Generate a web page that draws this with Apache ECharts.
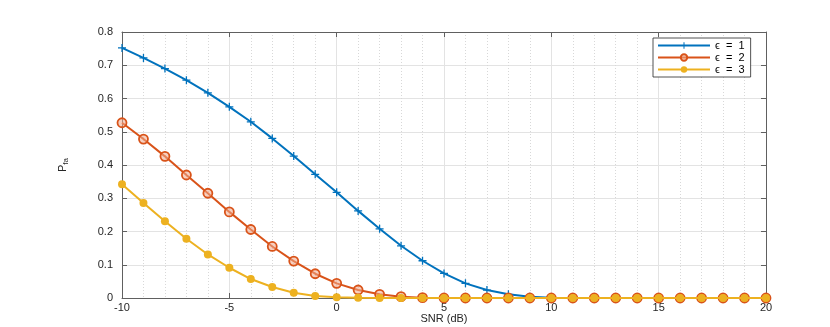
<!DOCTYPE html>
<html>
<head>
<meta charset="utf-8">
<script src="https://cdn.jsdelivr.net/npm/echarts@6/dist/echarts.min.js"></script>
<style>
html, body { margin: 0; padding: 0; background: #fff; }
#main { width: 830px; height: 327px; }
</style>
</head>
<body>
<div id="main"></div>
<script>
var snr = [-10,-9,-8,-7,-6,-5,-4,-3,-2,-1,0,1,2,3,4,5,6,7,8,9,10,11,12,13,14,15,16,17,18,19,20];
var eps1 = [0.752,0.722,0.690,0.655,0.617,0.575,0.530,0.480,0.427,0.372,0.318,0.262,0.208,0.157,0.112,0.074,0.044,0.024,0.011,0.004,0.001,0,0,0,0,0,0,0,0,0,0];
var eps2 = [0.527,0.478,0.426,0.370,0.315,0.259,0.206,0.155,0.111,0.073,0.044,0.024,0.011,0.004,0.001,0,0,0,0,0,0,0,0,0,0,0,0,0,0,0,0];
var eps3 = [0.342,0.286,0.231,0.178,0.131,0.091,0.057,0.033,0.016,0.006,0.002,0.0005,0,0,0,0,0,0,0,0,0,0,0,0,0,0,0,0,0,0,0];
var names = ['ϵ = 1', 'ϵ = 2', 'ϵ = 3'];

function pairs(ys) {
    return snr.map(function (x, i) { return [x, ys[i]]; });
}

var dom = document.getElementById("main");
var myChart = echarts.init(dom);
var axisColor = '#606060';
var labelStyle = { color: '#262626', fontSize: 11, fontFamily: 'Liberation Sans' };
var plus = 'path://M0,4.2H10V5.8H0Z M4.2,0H5.8V10H4.2Z';

var option = {
    backgroundColor: '#fff',
    animation: false,
    grid: { left: 122, right: 64, top: 32, bottom: 29, outerBoundsMode: 'none' },
    legend: {
        orient: 'vertical',
        left: 653,
        top: 38,
        padding: [2, 6, 2, 4],
        itemGap: 1,
        itemWidth: 52,
        itemHeight: 8,
        backgroundColor: '#fff',
        borderColor: '#262626',
        borderWidth: 0.8,
        borderRadius: 0,
        formatter: function (n) { return n.replace(/ = /, '  =  '); },
        textStyle: { color: '#000', fontSize: 11, fontFamily: 'Liberation Sans' },
        data: names
    },
    xAxis: [{
        type: 'value',
        min: -10, max: 20, interval: 5,
        name: 'SNR (dB)',
        nameLocation: 'middle',
        nameGap: 15,
        nameMoveOverlap: false,
        nameTextStyle: labelStyle,
        axisLine: { show: true, onZero: false, lineStyle: { color: axisColor, width: 1 } },
        axisTick: { show: true, inside: true, length: 5, lineStyle: { color: axisColor } },
        axisLabel: { margin: 4, color: labelStyle.color, fontSize: 11, fontFamily: 'Liberation Sans' },
        splitLine: { show: true, lineStyle: { color: '#e3e3e3', width: 1 } },
        minorTick: { show: false, splitNumber: 5 },
        minorSplitLine: { show: true, lineStyle: { color: '#d8d8d8', type: [1, 2], width: 1 } }
    }, {
        type: 'value', position: 'top',
        min: -10, max: 20, interval: 5,
        axisLine: { show: true, onZero: false, lineStyle: { color: axisColor, width: 1 } },
        axisTick: { show: true, inside: true, length: 5, lineStyle: { color: axisColor } },
        axisLabel: { show: false },
        splitLine: { show: false }
    }],
    yAxis: [{
        type: 'value',
        min: 0, max: 0.8, interval: 0.1,
        name: '{p|P}{s|fa}',
        nameLocation: 'middle',
        nameGap: 52,
        nameRotate: 90,
        nameTextStyle: {
            rich: {
                p: { fontSize: 11, color: '#262626', fontFamily: 'Liberation Sans' },
                s: { fontSize: 8, color: '#262626', fontFamily: 'Liberation Sans', verticalAlign: 'bottom', padding: [6, 0, 0, 0] }
            }
        },
        axisLine: { show: true, onZero: false, lineStyle: { color: axisColor, width: 1 } },
        axisTick: { show: true, inside: true, length: 5, lineStyle: { color: axisColor } },
        axisLabel: {
            margin: 9, color: labelStyle.color, fontSize: 11, fontFamily: 'Liberation Sans',
            formatter: function (v) { return v === 0 ? '0' : v.toFixed(1); }
        },
        splitLine: { show: true, lineStyle: { color: '#e3e3e3', width: 1 } }
    }, {
        type: 'value', position: 'right',
        min: 0, max: 0.8, interval: 0.1,
        axisLine: { show: true, onZero: false, lineStyle: { color: axisColor, width: 1 } },
        axisTick: { show: true, inside: true, length: 5, lineStyle: { color: axisColor } },
        axisLabel: { show: false },
        splitLine: { show: false }
    }],
    series: [{
        name: names[0],
        type: 'line',
        data: pairs(eps1),
        symbol: plus,
        symbolSize: 8,
        lineStyle: { color: '#0072BD', width: 2 },
        itemStyle: { color: '#0072BD' },
        z: 3
    }, {
        name: names[1],
        type: 'line',
        data: pairs(eps2),
        symbol: 'circle',
        symbolSize: 9,
        lineStyle: { color: '#D95319', width: 2 },
        itemStyle: { color: 'rgba(240,170,140,0.55)', borderColor: '#D95319', borderWidth: 1.8 },
        z: 4
    }, {
        name: names[2],
        type: 'line',
        data: pairs(eps3),
        symbol: 'circle',
        symbolSize: 8,
        lineStyle: { color: '#EDB120', width: 2 },
        itemStyle: { color: '#EDB120' },
        z: 5
    }]
};

myChart.setOption(option, true);
window.addEventListener("resize", function () {
    myChart.resize();
});
</script>
</body>
</html>
